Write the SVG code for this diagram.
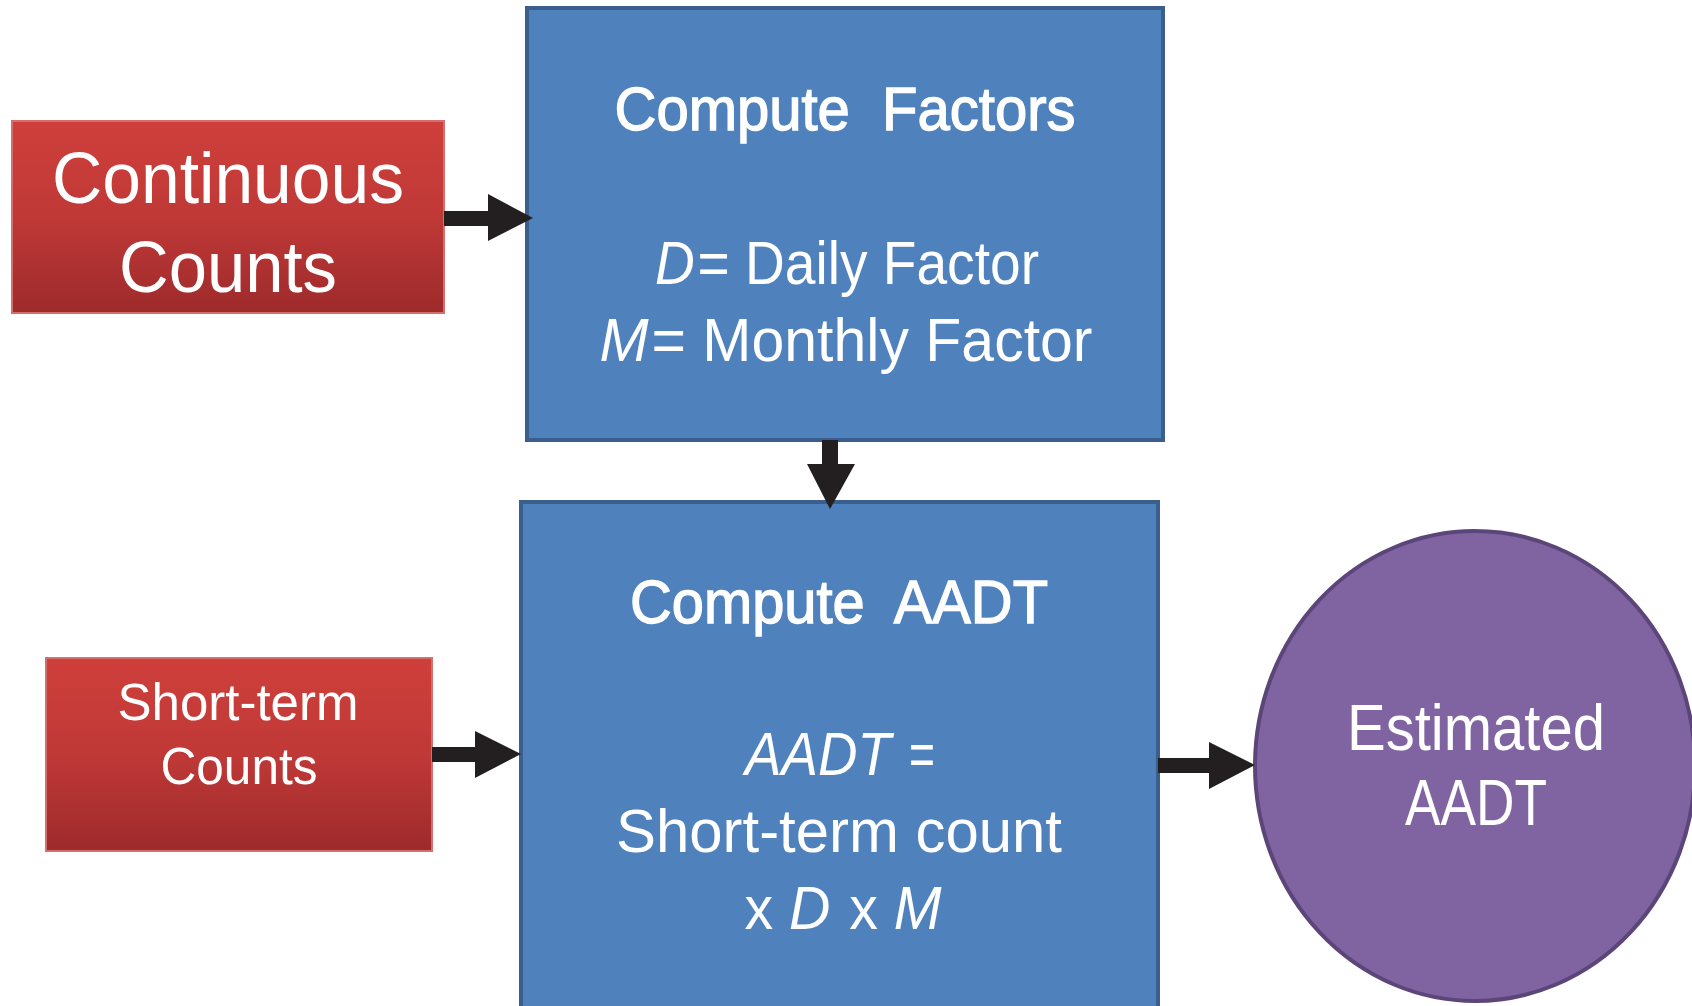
<svg xmlns="http://www.w3.org/2000/svg" width="1692" height="1006" viewBox="0 0 1692 1006">
<defs>
<linearGradient id="redGrad" x1="0" y1="0" x2="0" y2="1">
<stop offset="0" stop-color="#CF3F3B"/>
<stop offset="0.5" stop-color="#BF3937"/>
<stop offset="1" stop-color="#9E2A2B"/>
</linearGradient>
<style>
.red{fill:url(#redGrad);stroke:#D46F6C;stroke-width:2}
.blue{fill:#4F81BD;stroke:#3A5F8E;stroke-width:4}
.purple{fill:#8064A2;stroke:#5C4679;stroke-width:4}
.arrow{fill:#231F20}
text{font-family:"Liberation Sans Narrow","Liberation Sans","DejaVu Sans",sans-serif;fill:#FFFFFF;text-anchor:middle;white-space:pre}
.it{font-style:italic}
.hd{stroke:#FFFFFF;stroke-width:1.4}
</style>
</defs>
<rect width="1692" height="1006" fill="#FFFFFF"/>
<g id="continuous-counts">
<rect class="red" x="12" y="121" width="432" height="192"/>
<text x="228" y="203" font-size="72" textLength="352" lengthAdjust="spacingAndGlyphs">Continuous</text>
<text x="228" y="292" font-size="72" textLength="218" lengthAdjust="spacingAndGlyphs">Counts</text>
</g>
<g id="compute-factors">
<rect class="blue" x="527" y="8" width="636" height="432"/>
<text class="hd" x="845" y="130" font-size="62" textLength="461" lengthAdjust="spacingAndGlyphs">Compute  Factors</text>
<text x="847" y="284" font-size="62" textLength="384" lengthAdjust="spacingAndGlyphs"><tspan class="it">D</tspan><tspan dx="3">= Daily Factor</tspan></text>
<text x="846" y="361" font-size="62" textLength="493" lengthAdjust="spacingAndGlyphs"><tspan class="it">M</tspan><tspan dx="3">= Monthly Factor</tspan></text>
</g>
<g id="short-term-counts">
<rect class="red" x="46" y="658" width="386" height="193"/>
<text x="238" y="720" font-size="52" textLength="241" lengthAdjust="spacingAndGlyphs">Short-term</text>
<text x="239" y="784" font-size="52" textLength="157" lengthAdjust="spacingAndGlyphs">Counts</text>
</g>
<g id="compute-aadt">
<rect class="blue" x="521" y="502" width="637" height="520"/>
<text class="hd" x="839" y="623" font-size="62" textLength="418" lengthAdjust="spacingAndGlyphs">Compute  AADT</text>
<text class="it" x="818" y="775" font-size="62" textLength="146" lengthAdjust="spacingAndGlyphs">AADT</text>
<text x="922" y="775" font-size="62" textLength="26" lengthAdjust="spacingAndGlyphs">=</text>
<text x="839" y="852" font-size="62" textLength="446" lengthAdjust="spacingAndGlyphs">Short-term count</text>
<text x="843" y="929" font-size="62" textLength="197" lengthAdjust="spacingAndGlyphs">x <tspan class="it">D</tspan><tspan dx="3"> x </tspan><tspan class="it">M</tspan></text>
</g>
<g id="estimated-aadt">
<ellipse class="purple" cx="1475" cy="766" rx="220" ry="235"/>
<text x="1476" y="750" font-size="64" textLength="258" lengthAdjust="spacingAndGlyphs">Estimated</text>
<text x="1476" y="825" font-size="64" textLength="142" lengthAdjust="spacingAndGlyphs">AADT</text>
</g>
<g id="connectors">
<polygon class="arrow" points="444,211 488,211 488,194 533,218 488,241 488,226 444,226"/>
<polygon class="arrow" points="822,440 838,440 838,464 855,464 830,509 807,464 822,464"/>
<polygon class="arrow" points="432,747 475,747 475,731 521,754 475,778 475,762 432,762"/>
<polygon class="arrow" points="1158,758 1209,758 1209,742 1255,765 1209,789 1209,773 1158,773"/>
</g>
</svg>
